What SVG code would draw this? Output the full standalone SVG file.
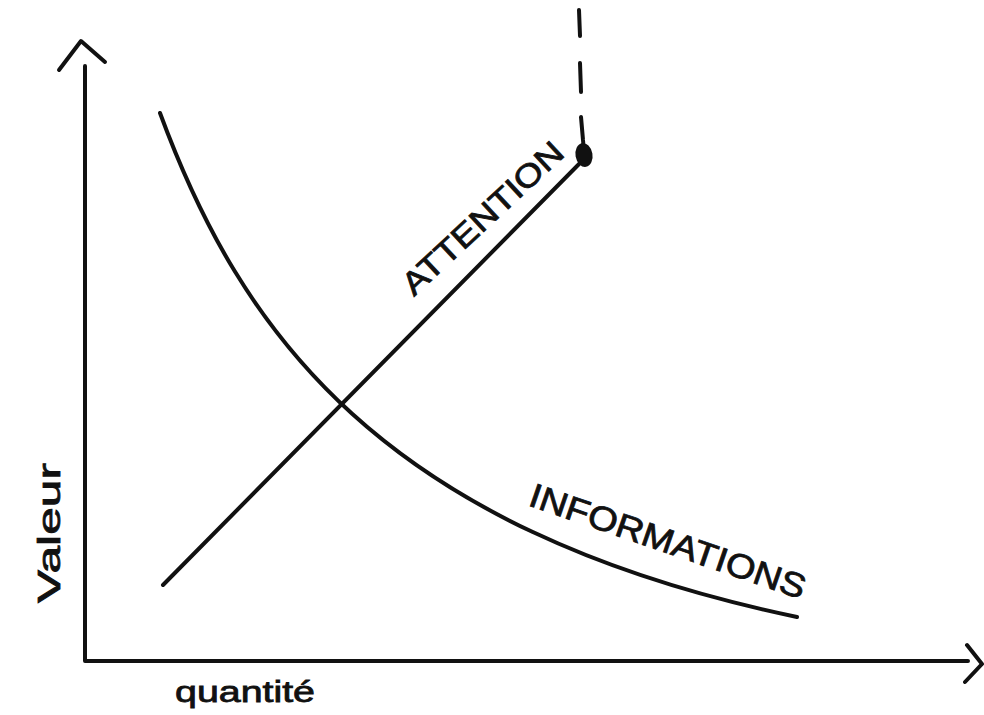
<svg xmlns="http://www.w3.org/2000/svg" width="984" height="715" viewBox="0 0 984 715">
<style>
.ln{fill:none;stroke:#111;stroke-width:4;stroke-linecap:round;stroke-linejoin:round}
.tx{font-family:"Liberation Sans","DejaVu Sans",sans-serif;fill:#111;stroke:#111;stroke-width:0.8}
</style>
<rect width="984" height="715" fill="#fff"/>
<g id="axes">
<path class="ln" d="M85,66 L85,661 L968,661"/>
<path class="ln" d="M59,70 L81,41 L105,62"/>
<path class="ln" d="M967,645 L982,664 L965,682"/>
</g>
<g id="connectors">
<path id="informations-curve" class="ln" d="M160,113 C240,330 380,530 797,617"/>
<path id="attention-line" class="ln" d="M163,585 L583,160"/>
<path id="attention-dash" class="ln" d="M579,10 L580,36 M580,63 L581,92 M581,117 L583,140 Q584,146 581,150"/>
<ellipse cx="584" cy="155" rx="8.5" ry="12" transform="rotate(-10 584 155)" fill="#111"/>
</g>
<g id="labels">
<text class="tx" font-size="32" textLength="208" lengthAdjust="spacingAndGlyphs" transform="translate(414,297) rotate(-43)">ATTENTION</text>
<text class="tx" font-size="34" textLength="290" lengthAdjust="spacingAndGlyphs" transform="translate(527,505) rotate(19)">INFORMATIONS</text>
<text class="tx" font-size="32" textLength="140" lengthAdjust="spacingAndGlyphs" transform="translate(60,603) rotate(-90)">Valeur</text>
<text class="tx" font-size="30" textLength="140" lengthAdjust="spacingAndGlyphs" x="175" y="702">quantité</text>
</g>
</svg>
